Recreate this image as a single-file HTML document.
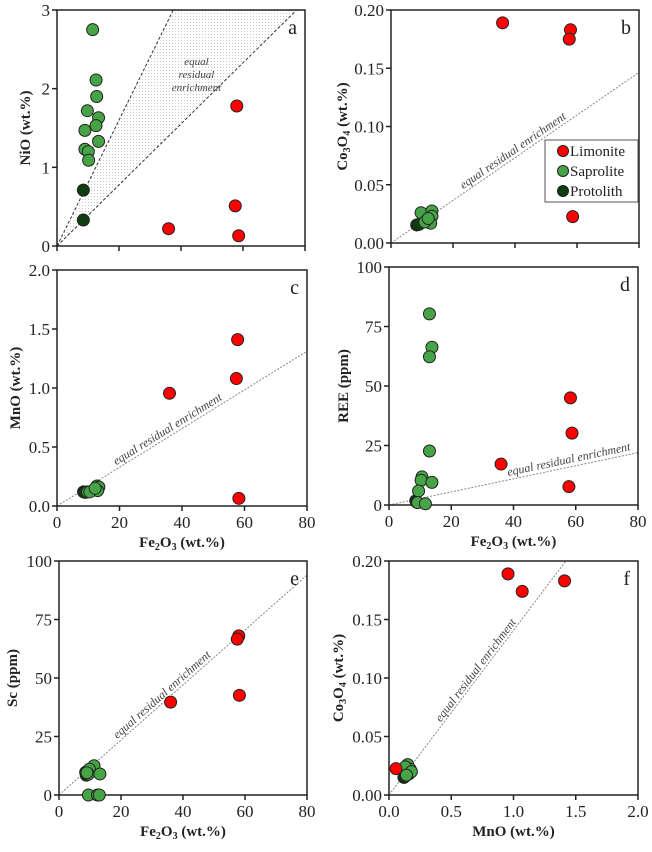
<!DOCTYPE html>
<html><head><meta charset="utf-8"><style>
html,body{margin:0;padding:0;background:#fff;}
svg, svg text{font-family:"Liberation Serif","Times New Roman",serif;}
</style></head><body>
<svg id="fig" width="652" height="847" viewBox="0 0 652 847" xmlns="http://www.w3.org/2000/svg" font-family="Liberation Serif, serif">
<defs>
<pattern id="dots" width="3" height="3" patternUnits="userSpaceOnUse"><rect width="3" height="3" fill="#fff"/><circle cx="1.5" cy="1.5" r="0.55" fill="#bbb"/></pattern>
</defs>
</svg>
<script>
// ---- Data ----
// Panel a: NiO vs Fe2O3
const aLimX=[36.0,57.5,58.0,58.6], aLimY=[0.22,0.51,1.78,0.13];
const aSapX=[11.5,12.6,12.8,9.8,13.4,12.6,9.0,13.4,9.0,10.1,10.2], aSapY=[2.75,2.11,1.90,1.72,1.63,1.53,1.47,1.33,1.23,1.20,1.09];
const aProX=[8.5,8.5], aProY=[0.71,0.33];
// Panel b: Co3O4 vs Fe2O3
const bLimX=[36.0,57.9,57.5,58.6], bLimY=[0.189,0.183,0.175,0.0226];
const bSapX=[9.7,13.2,13.2,11.6,12.8,10.9,12.0], bSapY=[0.026,0.0275,0.023,0.019,0.017,0.018,0.021];
const bProX=[8.3,9.0], bProY=[0.0155,0.016];
// Panel c: MnO vs Fe2O3
const cLimX=[36.0,57.8,57.4,58.2], cLimY=[0.955,1.41,1.08,0.065];
const cSapX=[9.8,12.8,13.4,13.0,10.5,12.2], cSapY=[0.12,0.17,0.16,0.13,0.12,0.15];
const cProX=[8.5,9.0], cProY=[0.12,0.115];
// Panel d: REE vs Fe2O3
const dLimX=[36.0,58.3,58.8,57.8], dLimY=[17.2,45.0,30.2,7.7];
const dSapX=[13.0,13.8,13.0,13.0,10.6,10.3,13.8,9.5,9.2,11.7], dSapY=[80.3,66.3,62.3,22.7,11.8,10.4,9.5,5.9,1.0,0.5];
const dProX=[8.6,8.9], dProY=[1.8,1.2];
// Panel e: Sc vs Fe2O3
const eLimX=[36.0,58.0,57.5,58.2], eLimY=[39.7,68.0,66.6,42.6];
const eSapX=[11.3,9.8,9.5,13.2,9.5,12.4,13.0,9.0], eSapY=[12.5,11.0,8.9,9.0,0,0,0,9.5];
const eProX=[8.6,8.8], eProY=[9.7,8.5];
// Panel f: Co3O4 vs MnO
const fLimX=[0.956,1.07,1.41,0.056], fLimY=[0.189,0.174,0.183,0.0225];
const fSapX=[0.15,0.17,0.16,0.13,0.18,0.14], fSapY=[0.026,0.022,0.018,0.024,0.020,0.017];
const fProX=[0.12,0.13], fProY=[0.015,0.016];
// Equal residual enrichment slopes
const refSlopes=[0.0388,0.00183,0.0164,0.275,1.175,0.1408];
const aWedgeTop=[37.5,77.3];
// Tick labels
const feTicks=[0,20,40,60,80], mnoTicks=[0.0,0.5,1.0,1.5,2.0];
const aYTicks=[0,1,2,3], coTicks=[0,0.05,0.10,0.15,0.20], mnTicksY=[0,0.5,1.0,1.5,2.0], reeTicks=[0,25,50,75,100], scTicks=[0,25,50,75,100];

const NS='http://www.w3.org/2000/svg';
const svg=document.getElementById('fig');
const FF='Liberation Serif, serif';
function mk(tag,attrs,parent){const e=document.createElementNS(NS,tag);for(const k in attrs)e.setAttribute(k,attrs[k]);if(tag==='text')e.setAttribute('font-family',FF);(parent||svg).appendChild(e);return e;}
function chem(t,parts){parts.forEach(([s,sub])=>{const ts=mk('tspan',sub?{'baseline-shift':'-25%','font-size':10}:{},t);ts.textContent=s;});}
const COL={lim:'#ff0000',sap:'#46a446',pro:'#0d3d10'};
const FE=[['Fe',0],['2',1],['O',0],['3',1],[' (wt.%)',0]];
const CO=[['Co',0],['3',1],['O',0],['4',1],[' (wt.%)',0]];

function panel(p){
  const g=mk('g',{});
  
  
  const sx=v=>p.x0+(v-p.xmin)/(p.xmax-p.xmin)*(p.x1-p.x0);
  const sy=v=>p.y1-(v-p.ymin)/(p.ymax-p.ymin)*(p.y1-p.y0);
  const cp=mk('clipPath',{id:'clip'+p.id},g);mk('rect',{x:p.x0,y:p.y0,width:p.x1-p.x0,height:p.y1-p.y0},cp);
  const inner=mk('g',{'clip-path':'url(#clip'+p.id+')'},g);
  if(p.wedge){
    const w=mk('polygon',{points:`${sx(0)},${sy(0)} ${sx(p.wedge[0])},${sy(p.ymax)} ${sx(p.wedge[1])},${sy(p.ymax)}`,fill:'url(#dots)',stroke:'none'},inner);
    
    
    for(const xt of p.wedge){const l=mk('line',{x1:sx(0),y1:sy(0),x2:sx(xt),y2:sy(p.ymax),stroke:'#333','stroke-width':1,'stroke-dasharray':'3,2'},inner);
      
      }
    const t=mk('text',{x:sx(p.wlx),y:sy(p.wly),'font-size':11,'font-style':'italic','text-anchor':'middle',fill:'#444'},g);
    
    
    ['equal','residual','enrichment'].forEach((s,i)=>{const ts=mk('tspan',{x:sx(p.wlx),dy:i?13:0},t);ts.textContent=s;});
  } else {
    const xe=p.xmax, ye=p.slope*xe;
    const l=mk('line',{x1:sx(0),y1:sy(0),x2:sx(xe),y2:sy(ye),stroke:'#888','stroke-width':1,'stroke-dasharray':'2,1.5'},inner);
    
    
    const ang=Math.atan2(sy(p.slope*p.lx)-sy(0),sx(p.lx)-sx(0))*180/Math.PI;
    const t=mk('text',{x:sx(p.lx),y:sy(p.slope*p.lx)-4,'font-size':12,'font-style':'italic','text-anchor':'middle',fill:'#444',transform:`rotate(${ang} ${sx(p.lx)} ${sy(p.slope*p.lx)-4})`},g);
    t.textContent='equal residual enrichment';
    
    
  }
  const fr=mk('rect',{x:p.x0,y:p.y0,width:p.x1-p.x0,height:p.y1-p.y0,fill:'none',stroke:'#222','stroke-width':1.5},g);
  
  
  p.xt.forEach(v=>{const x=sx(v);mk('line',{x1:x,y1:p.y1,x2:x,y2:p.y1+5,stroke:'#222','stroke-width':1.5},g);
    if(p.xlab){const t=mk('text',{x:x,y:p.y1+22,'font-size':17,'text-anchor':'middle',fill:'#222'},g);t.textContent=p.xfmt(v);
      
      }});
  p.yt.forEach(v=>{const y=sy(v);mk('line',{x1:p.x0-5,y1:y,x2:p.x0,y2:y,stroke:'#222','stroke-width':1.5},g);
    const t=mk('text',{x:p.x0-7,y:y+6,'font-size':17,'text-anchor':'end',fill:'#222'},g);t.textContent=p.yfmt(v);
    
    });
  if(p.xtitle){const t=mk('text',{x:(p.x0+p.x1)/2,y:p.y1+41,'font-size':15,'font-weight':'bold','text-anchor':'middle',fill:'#222'},g);
    if(typeof p.xtitle==='string')t.textContent=p.xtitle;else chem(t,p.xtitle);
    
    }
  const yc=(p.y0+p.y1)/2, yx=p.ytx;
  const yt=mk('text',{x:yx,y:yc,'font-size':15,'font-weight':'bold','text-anchor':'middle',fill:'#222',transform:`rotate(-90 ${yx} ${yc})`},g);
  if(typeof p.ytitle==='string')yt.textContent=p.ytitle;else chem(yt,p.ytitle);
  
  
  const lt=mk('text',{x:p.x1-8,y:p.y0+24,'font-size':20,'text-anchor':'end',fill:'#222'},g);lt.textContent=p.id;
  
  
  const series=[['protolith',p.pro,COL.pro],['saprolite',p.sap,COL.sap],['limonite',p.lim,COL.lim]];
  series.forEach(([nm,xy,c])=>{xy[0].forEach((xv,i)=>{const pt=mk('circle',{cx:sx(xv),cy:sy(xy[1][i]),r:6,fill:c,stroke:'#222','stroke-width':1},g);
    
    });});
}
const f0=v=>String(v), f1=v=>v.toFixed(1), f2=v=>v.toFixed(2);
panel({id:'a',x0:57,x1:305,y0:10,y1:246,xmin:0,xmax:80,ymin:0,ymax:3,xt:feTicks,yt:aYTicks,xlab:false,xfmt:f0,yfmt:f0,ytitle:'NiO (wt.%)',ytx:30,wedge:aWedgeTop,wlx:45,wly:2.3,lim:[aLimX,aLimY],sap:[aSapX,aSapY],pro:[aProX,aProY]});
panel({id:'b',x0:391,x1:639,y0:10,y1:243,xmin:0,xmax:80,ymin:0,ymax:0.2,xt:feTicks,yt:coTicks,xlab:false,xfmt:f0,yfmt:f2,ytitle:CO,ytx:347,slope:refSlopes[1],lx:40,lim:[bLimX,bLimY],sap:[bSapX,bSapY],pro:[bProX,bProY]});
panel({id:'c',x0:57,x1:307,y0:270,y1:506,xmin:0,xmax:80,ymin:0,ymax:2,xt:feTicks,yt:mnTicksY,xlab:true,xfmt:f0,yfmt:f1,xtitle:FE,ytitle:'MnO (wt.%)',ytx:20,slope:refSlopes[2],lx:36,lim:[cLimX,cLimY],sap:[cSapX,cSapY],pro:[cProX,cProY]});
panel({id:'d',x0:389,x1:638,y0:267,y1:505,xmin:0,xmax:80,ymin:0,ymax:100,xt:feTicks,yt:reeTicks,xlab:true,xfmt:f0,yfmt:f0,xtitle:FE,ytitle:'REE (ppm)',ytx:348,slope:refSlopes[3],lx:58,lim:[dLimX,dLimY],sap:[dSapX,dSapY],pro:[dProX,dProY]});
panel({id:'e',x0:59,x1:307,y0:561,y1:795,xmin:0,xmax:80,ymin:0,ymax:100,xt:feTicks,yt:scTicks,xlab:true,xfmt:f0,yfmt:f0,xtitle:FE,ytitle:'Sc (ppm)',ytx:17,slope:refSlopes[4],lx:34,lim:[eLimX,eLimY],sap:[eSapX,eSapY],pro:[eProX,eProY]});
panel({id:'f',x0:389,x1:638,y0:561,y1:795,xmin:0,xmax:2,ymin:0,ymax:0.2,xt:mnoTicks,yt:coTicks,xlab:true,xfmt:f1,yfmt:f2,xtitle:'MnO (wt.%)',ytitle:CO,ytx:343,slope:refSlopes[5],lx:0.72,lim:[fLimX,fLimY],sap:[fSapX,fSapY],pro:[fProX,fProY]});

const lg=mk('g',{});


mk('rect',{x:545,y:140,width:93,height:62,fill:'#fff',stroke:'#555','stroke-width':1},lg);
[['Limonite',COL.lim],['Saprolite',COL.sap],['Protolith',COL.pro]].forEach(([n,c],i)=>{
  const e=mk('g',{},lg);
  
  
  mk('circle',{cx:563,cy:151+i*20,r:5.5,fill:c,stroke:'#222','stroke-width':1},e);
  const t=mk('text',{x:570,y:156+i*20,'font-size':15,fill:'#222'},e);t.textContent=n;
});
</script>
</body></html>
